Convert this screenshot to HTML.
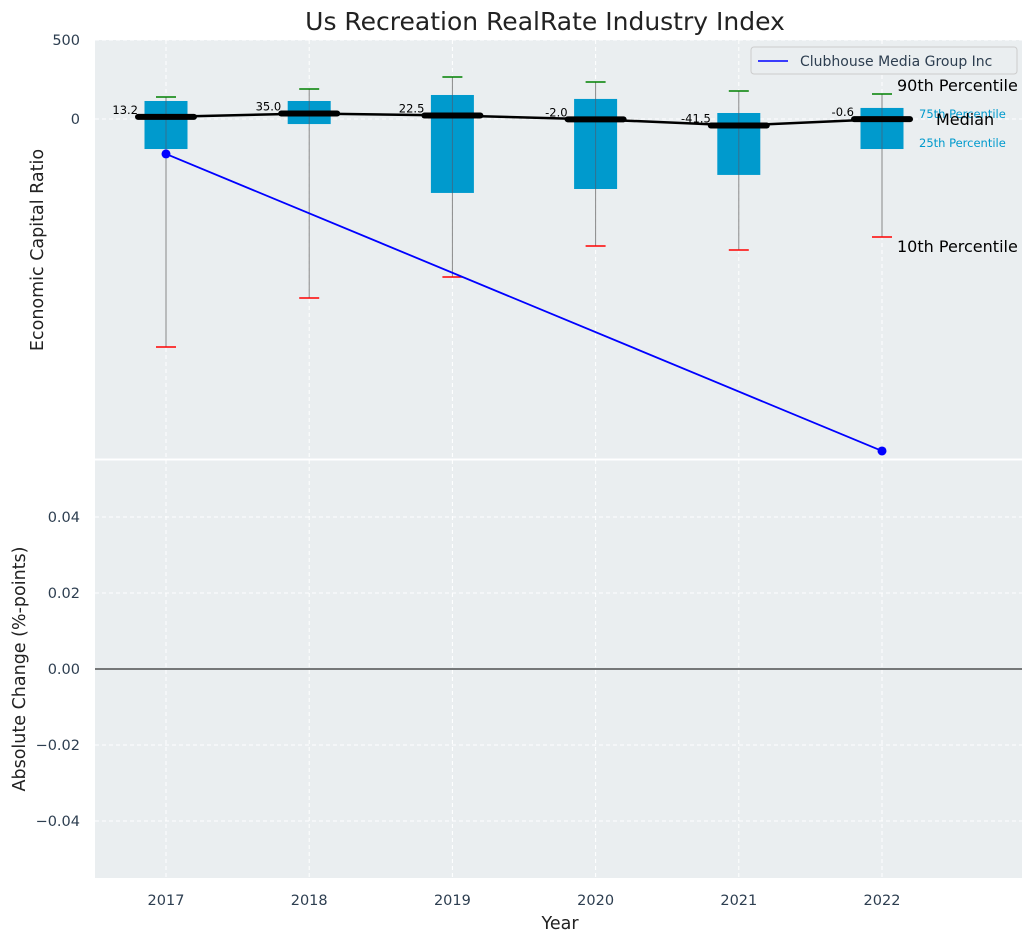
<!DOCTYPE html>
<html><head><meta charset="utf-8"><style>
body{margin:0;background:#fff;font-family:"Liberation Sans","DejaVu Sans",sans-serif;}
svg text{font-family:"DejaVu Sans","Liberation Sans",sans-serif;}
</style></head><body>
<svg id="c" width="1034" height="942" xmlns="http://www.w3.org/2000/svg"></svg>
<script>
const years=[2017,2018,2019,2020,2021,2022];
const p90=[139,190,266,234,177,158];
const p75=[114,114,152,127,38,70];
const median=[13.2,35.0,22.5,-2.0,-41.5,-0.6];
const p25=[-190,-32,-468,-443,-354,-190];
const p10=[-1443,-1133,-1000,-804,-829,-747];
const companyYears=[2017,2022];
const companyVals=[-221,-2101];
const topTicks=[500,0];
const bottomTicks=[0.04,0.02,0.00,-0.02,-0.04];
const changeVals=[];

const NS="http://www.w3.org/2000/svg";
const svg=document.getElementById('c');
function el(t,a,txt){const e=document.createElementNS(NS,t);for(const k in a)e.setAttribute(k,a[k]);if(txt!==undefined)e.textContent=txt;svg.appendChild(e);return e;}
const X0=95,X1=1022;
const x=yr=>166+(yr-2017)*143.2;
const yT=v=>119-v*0.158;
const yB=v=>669-v*3800;

let e;
e=el('rect',{x:X0,y:40,width:X1-X0,height:419,fill:'#eaeef0'});

e=el('rect',{x:X0,y:460,width:X1-X0,height:418,fill:'#eaeef0'});


years.forEach(yr=>{
  e=el('line',{x1:x(yr),x2:x(yr),y1:40,y2:459,stroke:'#fff','stroke-dasharray':'4,3','stroke-width':1});
  
  e=el('line',{x1:x(yr),x2:x(yr),y1:460,y2:878,stroke:'#fff','stroke-dasharray':'4,3','stroke-width':1});
  
  e=el('text',{x:x(yr),y:905,'text-anchor':'middle','font-size':14.5,fill:'#2d3e50'},yr);
  
});
topTicks.forEach(v=>{
  e=el('line',{x1:X0,x2:X1,y1:yT(v),y2:yT(v),stroke:'#fff','stroke-dasharray':'4,3'});
  
  e=el('text',{x:80,y:yT(v)+5,'text-anchor':'end','font-size':14.5,fill:'#2d3e50'},v);
  
});
bottomTicks.forEach(v=>{
  e=el('line',{x1:X0,x2:X1,y1:yB(v),y2:yB(v),stroke:v===0?'#000':'#fff','stroke-dasharray':v===0?'':'4,3','stroke-width':1});
  
  e=el('text',{x:80,y:yB(v)+5,'text-anchor':'end','font-size':14.5,fill:'#2d3e50'},(v<0?'\u2212':'')+Math.abs(v).toFixed(2));
  
});
e=el('line',{x1:X0,x2:X1,y1:459.5,y2:459.5,stroke:'#fff','stroke-width':2});

years.forEach((yr,i)=>{
  const cx=x(yr);
  e=el('line',{x1:cx,x2:cx,y1:yT(p90[i]),y2:yT(p10[i]),stroke:'#888','stroke-width':1});
  
  e=el('rect',{x:cx-21.5,y:yT(p75[i]),width:43,height:yT(p25[i])-yT(p75[i]),fill:'#009acd'});
  
  e=el('line',{x1:cx,x2:cx,y1:yT(p75[i]),y2:yT(p25[i]),stroke:'#556','stroke-width':1,opacity:0.6});
  e=el('line',{x1:cx-10,x2:cx+10,y1:yT(p90[i]),y2:yT(p90[i]),stroke:'green','stroke-width':1.5});
  
  e=el('line',{x1:cx-10,x2:cx+10,y1:yT(p10[i]),y2:yT(p10[i]),stroke:'red','stroke-width':1.5});
  
});
e=el('polyline',{points:years.map((yr,i)=>x(yr)+','+yT(median[i])).join(' '),fill:'none',stroke:'#000','stroke-width':2.5});

years.forEach((yr,i)=>{
  const cx=x(yr);
  e=el('line',{x1:cx-28,x2:cx+28,y1:yT(median[i]),y2:yT(median[i]),stroke:'#000','stroke-width':6,'stroke-linecap':'round'});
  
  e=el('text',{x:cx-28,y:yT(median[i])-3,'text-anchor':'end','font-size':11.5,fill:'#000'},median[i].toFixed(1));
  
});
e=el('polyline',{points:companyYears.map((yr,i)=>x(yr)+','+yT(companyVals[i])).join(' '),fill:'none',stroke:'blue','stroke-width':1.8});

companyYears.forEach((yr,i)=>{
  e=el('circle',{cx:x(yr),cy:yT(companyVals[i]),r:4.5,fill:'blue'});
  
});
e=el('text',{x:897,y:yT(p90[5])-3,'font-size':16,fill:'#000'},'90th Percentile');

e=el('text',{x:919,y:yT(p75[5])+10,'font-size':11.5,fill:'#009acd'},'75th Percentile');

e=el('text',{x:936,y:yT(median[5])+6,'font-size':16,fill:'#000'},'Median');

e=el('text',{x:919,y:yT(p25[5])-2,'font-size':11.5,fill:'#009acd'},'25th Percentile');

e=el('text',{x:897,y:yT(p10[5])+15,'font-size':16,fill:'#000'},'10th Percentile');

e=el('rect',{x:751,y:47,width:266,height:27,rx:3,fill:'#eaeef0',stroke:'#ccc'});

e=el('line',{x1:758,x2:788,y1:61,y2:61,stroke:'blue','stroke-width':1.5});
e=el('text',{x:800,y:66,'font-size':14,fill:'#2d3e50'},'Clubhouse Media Group Inc');

e=el('text',{x:545,y:30,'text-anchor':'middle','font-size':25,fill:'#222'},'Us Recreation RealRate Industry Index');

e=el('text',{x:560,y:929,'text-anchor':'middle','font-size':17.5,fill:'#222'},'Year');

e=el('text',{x:43,y:250,'text-anchor':'middle','font-size':17.5,fill:'#222',transform:'rotate(-90 43 250)'},'Economic Capital Ratio');

e=el('text',{x:25,y:669,'text-anchor':'middle','font-size':17.5,fill:'#222',transform:'rotate(-90 25 669)'},'Absolute Change (%-points)');

</script>
</body></html>
